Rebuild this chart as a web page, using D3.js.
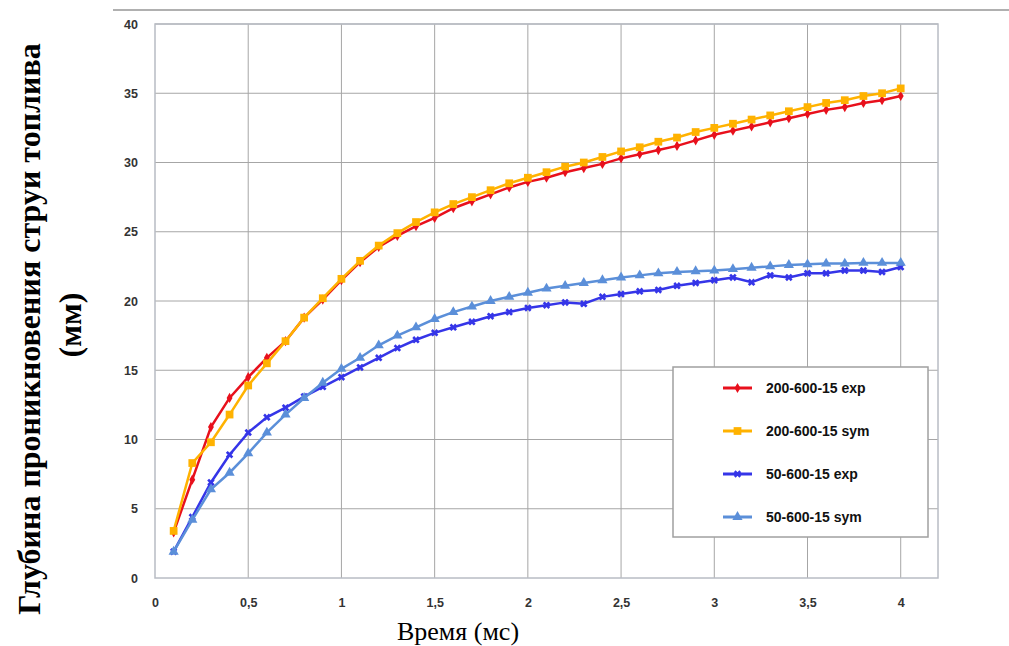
<!DOCTYPE html>
<html>
<head>
<meta charset="utf-8">
<script src="https://d3js.org/d3.v7.min.js"></script>
<style>
  body { margin: 0; background: #fff; }
</style>
</head>
<body>
<div id="chart"></div>
<script>

// time, ms
var time = [0.1, 0.2, 0.3, 0.4, 0.5, 0.6, 0.7, 0.8, 0.9, 1.0,
            1.1, 1.2, 1.3, 1.4, 1.5, 1.6, 1.7, 1.8, 1.9, 2.0,
            2.1, 2.2, 2.3, 2.4, 2.5, 2.6, 2.7, 2.8, 2.9, 3.0,
            3.1, 3.2, 3.3, 3.4, 3.5, 3.6, 3.7, 3.8, 3.9, 4.0];

var exp200 = [3.3, 7.1, 10.9, 13.0, 14.5, 15.9, 17.1, 18.8, 20.1, 21.5,
              22.8, 23.9, 24.7, 25.4, 26.0, 26.7, 27.2, 27.7, 28.2, 28.6,
              28.9, 29.3, 29.6, 29.9, 30.3, 30.6, 30.9, 31.2, 31.6, 32.0,
              32.3, 32.6, 32.9, 33.2, 33.5, 33.8, 34.0, 34.3, 34.5, 34.8];

var sym200 = [3.4, 8.3, 9.8, 11.8, 13.9, 15.5, 17.1, 18.8, 20.2, 21.6,
              22.9, 24.0, 24.9, 25.7, 26.4, 27.0, 27.5, 28.0, 28.5, 28.9,
              29.3, 29.7, 30.0, 30.4, 30.8, 31.1, 31.5, 31.8, 32.2, 32.5,
              32.8, 33.1, 33.4, 33.7, 34.0, 34.3, 34.5, 34.8, 35.0, 35.35];

var exp50 = [1.9, 4.4, 6.9, 8.9, 10.5, 11.6, 12.3, 13.1, 13.8, 14.5,
             15.2, 15.9, 16.6, 17.2, 17.7, 18.1, 18.5, 18.9, 19.2, 19.5,
             19.7, 19.9, 19.8, 20.3, 20.5, 20.7, 20.8, 21.1, 21.3, 21.5,
             21.7, 21.35, 21.85, 21.7, 22.0, 22.0, 22.2, 22.2, 22.1, 22.45];

var sym50 = [1.9, 4.2, 6.4, 7.6, 9.0, 10.5, 11.8, 13.0, 14.1, 15.1,
             15.9, 16.8, 17.5, 18.1, 18.7, 19.2, 19.6, 20.0, 20.3, 20.6,
             20.9, 21.1, 21.3, 21.5, 21.7, 21.85, 22.0, 22.1, 22.15, 22.2,
             22.3, 22.4, 22.5, 22.6, 22.65, 22.7, 22.7, 22.75, 22.75, 22.75];

var seriesNames = ["200-600-15 exp", "200-600-15 sym", "50-600-15 exp", "50-600-15 sym"];
var xTicks = [0, 0.5, 1, 1.5, 2, 2.5, 3, 3.5, 4];
var yTicks = [0, 5, 10, 15, 20, 25, 30, 35, 40];

var series = [
  {name: seriesNames[0], values: exp200, color: "#e8101c", symbol: d3.symbolDiamond, size: 30},
  {name: seriesNames[1], values: sym200, color: "#ffb200", symbol: d3.symbolSquare, size: 60},
  {name: seriesNames[2], values: exp50,  color: "#3535e8", symbol: d3.symbolCross, size: 35},
  {name: seriesNames[3], values: sym50,  color: "#5b8fd9", symbol: d3.symbolTriangle, size: 45}
];

var W = 1009, H = 646;
var plot = {left: 155, right: 938, top: 24, bottom: 578};

var svg = d3.select("#chart")
  .append("svg")
    .attr("width", W)
    .attr("height", H);

var x = d3.scaleLinear()
  .domain([0, 4.2])
  .range([plot.left, plot.right]);

var y = d3.scaleLinear()
  .domain([0, 40])
  .range([plot.bottom, plot.top]);

// outer chart frame line at top
svg.append("line")
  .attr("x1", 113).attr("x2", W)
  .attr("y1", 10).attr("y2", 10)
  .attr("stroke", "#b0b0b0")
  .attr("stroke-width", 2);

// gridlines
svg.append("g")
  .selectAll("line")
  .data(yTicks.slice(1))
  .enter().append("line")
    .attr("x1", plot.left).attr("x2", plot.right)
    .attr("y1", function(d) { return y(d); })
    .attr("y2", function(d) { return y(d); })
    .attr("stroke", "#a6a6a6")
    .attr("stroke-width", 1);

svg.append("g")
  .selectAll("line")
  .data(xTicks.slice(1))
  .enter().append("line")
    .attr("y1", plot.top).attr("y2", plot.bottom)
    .attr("x1", function(d) { return x(d); })
    .attr("x2", function(d) { return x(d); })
    .attr("stroke", "#a6a6a6")
    .attr("stroke-width", 1);

// plot border
svg.append("rect")
  .attr("x", plot.left)
  .attr("y", plot.top)
  .attr("width", plot.right - plot.left)
  .attr("height", plot.bottom - plot.top)
  .attr("fill", "none")
  .attr("stroke", "#b8bcc4")
  .attr("stroke-width", 1.5);

// axes (labels only)
var fmt = function(d) { return String(d).replace(".", ","); };

var xAxis = svg.append("g")
  .attr("transform", "translate(0," + plot.bottom + ")")
  .call(d3.axisBottom(x).tickValues(xTicks).tickFormat(fmt).tickSize(0).tickPadding(20));

var yAxis = svg.append("g")
  .attr("transform", "translate(" + plot.left + ",0)")
  .call(d3.axisLeft(y).tickValues(yTicks).tickSize(0).tickPadding(17));

[xAxis, yAxis].forEach(function(a) {
  a.select(".domain").remove();
  a.selectAll("text")
    .style("font-family", "'Liberation Sans', Arial, sans-serif")
    .style("font-weight", "bold")
    .style("font-size", "12.5px")
    .attr("fill", "#333");
});

// lines and markers
var line = d3.line()
  .x(function(d, i) { return x(time[i]); })
  .y(function(d) { return y(d); });

series.forEach(function(s) {
  var g = svg.append("g");
  g.append("path")
    .datum(s.values)
    .attr("fill", "none")
    .attr("stroke", s.color)
    .attr("stroke-width", 2.5)
    .attr("d", line);

  g.selectAll("path.m")
    .data(s.values)
    .enter().append("path")
      .attr("class", "m")
      .attr("transform", function(d, i) {
        return "translate(" + x(time[i]) + "," + y(d) + ")" + (s.symbol === d3.symbolCross ? " rotate(45)" : "");
      })
      .attr("d", d3.symbol().type(s.symbol).size(s.size))
      .attr("fill", s.color);
});

// legend
var legend = svg.append("g").attr("transform", "translate(673,367)");
legend.append("rect")
  .attr("width", 255)
  .attr("height", 170)
  .attr("fill", "#fff")
  .attr("stroke", "#a0a0a0")
  .attr("stroke-width", 1.5);

var item = legend.selectAll("g.item")
  .data(series)
  .enter().append("g")
    .attr("class", "item")
    .attr("transform", function(d, i) { return "translate(0," + (21 + i * 43) + ")"; });

item.append("line")
  .attr("x1", 50).attr("x2", 79)
  .attr("y1", 0).attr("y2", 0)
  .attr("stroke", function(d) { return d.color; })
  .attr("stroke-width", 3);

item.append("path")
  .attr("transform", function(d) { return "translate(64.5,0)" + (d.symbol === d3.symbolCross ? " rotate(45)" : ""); })
  .attr("d", function(d) { return d3.symbol().type(d.symbol).size(d.size)(); })
  .attr("fill", function(d) { return d.color; });

item.append("text")
  .attr("x", 93)
  .attr("y", 5)
  .style("font-family", "'Liberation Sans', Arial, sans-serif")
  .style("font-weight", "bold")
  .style("font-size", "14px")
  .attr("fill", "#111")
  .text(function(d) { return d.name; });

// axis titles
svg.append("text")
  .attr("transform", "translate(40,329) rotate(-90)")
  .attr("text-anchor", "middle")
  .style("font-family", "'Liberation Serif', 'Times New Roman', serif")
  .style("font-weight", "bold")
  .style("font-size", "32px")
  .attr("fill", "#000")
  .text("Глубина проникновения струи топлива");

svg.append("text")
  .attr("transform", "translate(81,325) rotate(-90)")
  .attr("text-anchor", "middle")
  .style("font-family", "'Liberation Serif', 'Times New Roman', serif")
  .style("font-weight", "bold")
  .style("font-size", "32px")
  .attr("fill", "#000")
  .text("(мм)");

svg.append("text")
  .attr("x", 458)
  .attr("y", 640)
  .attr("text-anchor", "middle")
  .style("font-family", "'Liberation Serif', 'Times New Roman', serif")
  .style("font-size", "26px")
  .attr("fill", "#000")
  .text("Время (мс)");

</script>
</body>
</html>
